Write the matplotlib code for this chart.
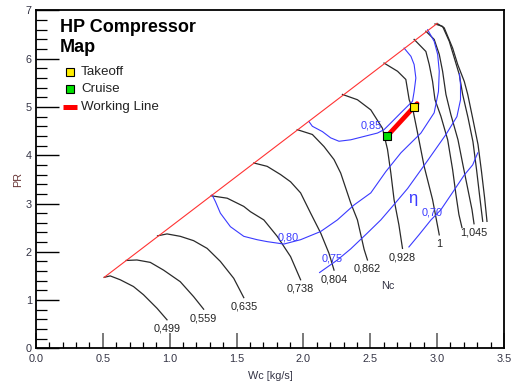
import matplotlib
matplotlib.use("Agg")
import matplotlib.pyplot as plt
from matplotlib.ticker import MultipleLocator, FixedLocator

plt.rcParams['font.family'] = ['Liberation Sans', 'DejaVu Sans']

# --- compressor map data -------------------------------------------------
surge_wc = [0.51, 3.00]
surge_pr = [1.47, 6.73]

# corrected speed lines (Nc), from surge line down to choke side
speed_labels = ['0,499', '0,559', '0,635', '0,738', '0,804', '0,862',
                '0,928', '1', '', '1,045', '', '']
speed_wc = [
    [0.510, 0.555, 0.630, 0.729, 0.804, 0.905, 0.980],
    [0.675, 0.755, 0.855, 0.954, 1.079, 1.179, 1.254],
    [0.909, 0.980, 1.079, 1.179, 1.280, 1.379, 1.479, 1.554],
    [1.310, 1.430, 1.554, 1.604, 1.704, 1.804, 1.904, 1.979],
    [1.629, 1.729, 1.829, 1.904, 1.979, 2.054, 2.129, 2.191, 2.229],
    [1.954, 2.067, 2.154, 2.229, 2.279, 2.354, 2.404, 2.454, 2.479],
    [2.292, 2.404, 2.504, 2.591, 2.629, 2.654, 2.678, 2.714, 2.741],
    [2.603, 2.704, 2.766, 2.791, 2.819, 2.854, 2.903, 2.966, 3.016],
    [2.828, 2.916, 2.941, 2.966, 2.984, 3.028, 3.079, 3.116, 3.141, 3.163, 3.186],
    [2.916, 2.978, 3.016, 3.041, 3.066, 3.103, 3.156, 3.193, 3.231, 3.261, 3.276],
    [2.984, 3.041, 3.091, 3.128, 3.166, 3.191, 3.231, 3.268, 3.295, 3.317, 3.341],
    [3.000, 3.053, 3.116, 3.154, 3.203, 3.229, 3.268, 3.306, 3.332, 3.355, 3.373],
]
speed_pr = [
    [1.47, 1.50, 1.42, 1.28, 1.11, 0.83, 0.59],
    [1.82, 1.83, 1.78, 1.62, 1.38, 1.07, 0.81],
    [2.33, 2.37, 2.32, 2.23, 2.07, 1.80, 1.45, 1.05],
    [3.16, 3.11, 2.94, 2.83, 2.66, 2.32, 1.90, 1.42],
    [3.84, 3.77, 3.60, 3.45, 3.22, 2.80, 2.39, 1.97, 1.62],
    [4.53, 4.43, 4.18, 3.91, 3.63, 3.01, 2.66, 2.05, 1.83],
    [5.26, 5.15, 4.94, 4.56, 4.12, 3.63, 3.08, 2.56, 2.07],
    [5.91, 5.74, 5.57, 5.15, 4.94, 4.46, 3.77, 3.08, 2.35],
    [6.40, 6.15, 5.88, 5.53, 5.15, 4.81, 4.32, 3.70, 3.18, 2.77, 2.50],
    [6.57, 6.40, 6.09, 5.74, 5.26, 4.84, 4.32, 3.80, 3.28, 2.87, 2.58],
    [6.72, 6.67, 6.36, 6.02, 5.67, 5.26, 4.78, 4.28, 3.70, 3.18, 2.63],
    [6.73, 6.64, 6.22, 5.88, 5.53, 5.26, 4.74, 4.22, 3.66, 3.12, 2.63],
]

# isentropic efficiency contours
eff_labels = ['0,85', '0,80', '0,75', '0,70']
eff_wc = [
    [2.041, 2.067, 2.142, 2.204, 2.266, 2.354, 2.454, 2.554, 2.603, 2.654,
     2.729, 2.791, 2.816, 2.828, 2.841, 2.828, 2.804, 2.753],
    [1.317, 1.342, 1.379, 1.454, 1.554, 1.654, 1.729, 1.854, 1.979, 2.129,
     2.254, 2.379, 2.504, 2.616, 2.729, 2.879, 2.978, 3.010, 3.016, 3.004,
     2.978, 2.929],
    [2.121, 2.254, 2.354, 2.479, 2.579, 2.669, 2.779, 2.929, 3.066, 3.148,
     3.175, 3.175, 3.167],
    [2.789, 2.864, 2.954, 3.028, 3.128, 3.203, 3.266, 3.304],
]
eff_pr = [
    [4.70, 4.60, 4.49, 4.36, 4.29, 4.32, 4.39, 4.46, 4.53, 4.67,
     4.88, 5.05, 5.12, 5.32, 5.60, 5.88, 6.05, 6.22],
    [3.18, 3.04, 2.80, 2.52, 2.32, 2.25, 2.21, 2.16, 2.25, 2.42,
     2.66, 2.97, 3.22, 3.66, 4.05, 4.46, 4.88, 5.32, 5.74, 6.09,
     6.36, 6.60],
    [1.57, 1.83, 2.06, 2.39, 2.66, 2.95, 3.31, 3.89, 4.43, 4.80,
     5.15, 5.46, 5.69],
    [2.10, 2.35, 2.66, 2.87, 3.28, 3.59, 3.80, 4.05],
]
eff_label_wc = [2.509, 1.884, 2.217, 2.966]
eff_label_pr = [4.618, 2.295, 1.867, 2.813]

# operating points and working line
takeoff_wc, takeoff_pr = 2.824, 5.00
cruise_wc, cruise_pr = 2.624, 4.39
working_wc = [2.624, 2.85]
working_pr = [4.39, 5.07]

x_ticks = [0.0, 0.5, 1.0, 1.5, 2.0, 2.5, 3.0, 3.5]
y_ticks = [0, 1, 2, 3, 4, 5, 6, 7]

# --- figure ---------------------------------------------------------------
fig = plt.figure(figsize=(5.14, 3.87), dpi=100)
ax = fig.add_axes([0.0700, 0.1000, 0.9105, 0.8730])

speed_color = '#2a2a2a'
eff_color = '#3a3aff'

ax.plot(surge_wc, surge_pr, color='#ff3333', lw=0.8, zorder=3)

for wc, pr, lab in zip(speed_wc, speed_pr, speed_labels):
    ax.plot(wc, pr, color=speed_color, lw=0.9, zorder=2)
    if lab:
        ax.annotate(lab, xy=(wc[-1], pr[-1]), xytext=(0, -9),
                    textcoords='offset pixels', ha='center', va='center',
                    fontsize=7.8, color='#222222')

for wc, pr in zip(eff_wc, eff_pr):
    ax.plot(wc, pr, color=eff_color, lw=0.8, zorder=2)
for lab, x, y in zip(eff_labels, eff_label_wc, eff_label_pr):
    ax.text(x, y, lab, ha='center', va='center', fontsize=7.8, color=eff_color)

ax.text(2.816, 3.11, 'η', ha='center', va='center', fontsize=12, color=eff_color)
ax.text(2.629, 1.29, 'Nc', ha='center', va='center', fontsize=7.8, color='#333344')

ax.plot(working_wc, working_pr, color='#ff0000', lw=3.4,
        solid_capstyle='round', zorder=4)
ax.plot([takeoff_wc], [takeoff_pr], marker='s', ms=5.8, mfc='#ffee00',
        mec='black', mew=0.8, ls='none', zorder=5)
ax.plot([cruise_wc], [cruise_pr], marker='s', ms=5.8, mfc='#00e000',
        mec='black', mew=0.8, ls='none', zorder=5)

# title and key
ax.text(0.0513, 0.976, 'HP Compressor\nMap', transform=ax.transAxes,
        ha='left', va='top', fontsize=13, fontweight='bold', linespacing=1.3)
ax.plot([0.0726], [0.8167], transform=ax.transAxes, marker='s', ms=5.8,
        mfc='#ffee00', mec='black', mew=0.8, ls='none', clip_on=False)
ax.plot([0.0726], [0.7666], transform=ax.transAxes, marker='s', ms=5.8,
        mfc='#00e000', mec='black', mew=0.8, ls='none', clip_on=False)
ax.plot([0.0577, 0.0876], [0.7134, 0.7134], transform=ax.transAxes,
        color='#ff0000', lw=3.6, solid_capstyle='butt')
for yy, lab in zip([0.8167, 0.7666, 0.7134], ['Takeoff', 'Cruise', 'Working Line']):
    ax.text(0.0962, yy, lab, transform=ax.transAxes, ha='left', va='center',
            fontsize=9.6, color='#222222')

# axes styling
ax.set_xlim(0, 3.5)
ax.set_ylim(0, 7)
ax.xaxis.set_major_locator(FixedLocator(x_ticks))
ax.yaxis.set_major_locator(FixedLocator(y_ticks))
ax.set_xticklabels([f'{v:.1f}' for v in x_ticks])
ax.set_yticklabels([str(v) for v in y_ticks])
ax.xaxis.set_minor_locator(MultipleLocator(0.1))
ax.yaxis.set_minor_locator(MultipleLocator(0.2))
ax.tick_params(axis='x', which='major', direction='in', length=11, width=1.1,
               color='#555555', labelsize=7.8, labelcolor='#333344', pad=4,
               top=False)
ax.tick_params(axis='x', which='minor', direction='in', length=4.5, width=0.9,
               color='black', top=False)
ax.tick_params(axis='y', which='major', direction='in', length=16.5, width=1.0,
               color='black', labelsize=7.8, labelcolor='#333344', pad=3,
               right=False)
ax.tick_params(axis='y', which='minor', direction='in', length=8, width=0.9,
               color='black', right=False)
for s in ax.spines.values():
    s.set_linewidth(1.3)

ax.set_xlabel('Wc [kg/s]', fontsize=7.8, color='#333344')
ax.set_ylabel('PR', fontsize=7.8, color='#663333')
ax.xaxis.set_label_coords(0.5, -0.066)
ax.yaxis.set_label_coords(-0.028, 0.5)

fig.savefig('out.png', dpi=100)
